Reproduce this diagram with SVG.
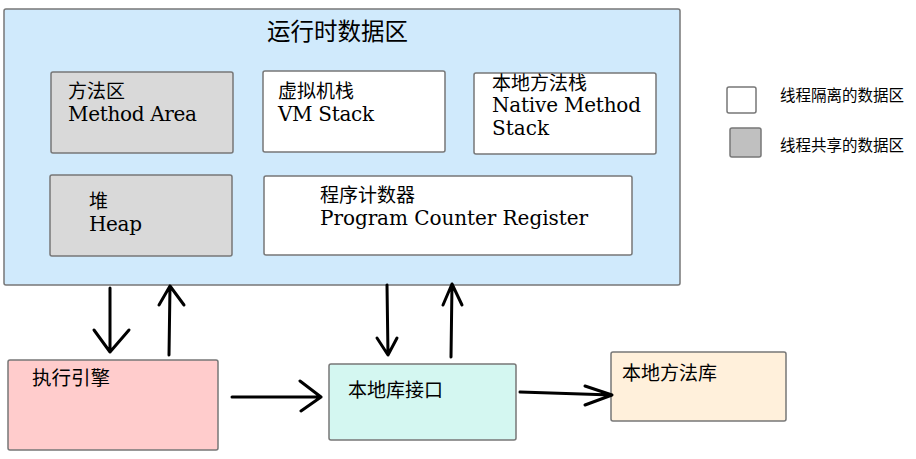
<svg xmlns="http://www.w3.org/2000/svg" width="916" height="459" viewBox="0 0 916 459">
<style>
.box{stroke:#777;stroke-width:1.5}
.lat{font-family:"DejaVu Serif","Liberation Serif",serif;font-size:20px;fill:#000}
.cjk{font-family:"Noto Sans CJK SC","DejaVu Sans",sans-serif;fill:#000}
.zh{font-family:"Noto Sans CJK SC",sans-serif;font-size:19px;fill:#000}
.arr{fill:none;stroke:#000;stroke-width:3;stroke-linecap:round;stroke-linejoin:round}
</style>
<rect width="916" height="459" fill="#fff"/>
<g id="runtime">
<rect class="box" x="4" y="9" width="676" height="276" rx="2" fill="#d0eafc"/>
<text class="cjk" x="267" y="40" font-size="23.5">运行时数据区</text>
</g>
<g id="method-area">
<rect class="box" x="51" y="72" width="182" height="81" rx="2" fill="#d9d9d9"/>
<text class="zh" x="68" y="98">方法区</text>
<text class="lat" x="68" y="121" textLength="129" lengthAdjust="spacing">Method Area</text>
</g>
<g id="vm-stack">
<rect class="box" x="263" y="71" width="182" height="81" rx="2" fill="#fff"/>
<text class="zh" x="278" y="98">虚拟机栈</text>
<text class="lat" x="278" y="121" textLength="96" lengthAdjust="spacing">VM Stack</text>
</g>
<g id="native-stack">
<rect class="box" x="474" y="73" width="182" height="81" rx="2" fill="#fff"/>
<text class="zh" x="492" y="89.5">本地方法栈</text>
<text class="lat" x="492" y="112" font-size="19" textLength="149" lengthAdjust="spacing">Native Method</text>
<text class="lat" x="492" y="135" font-size="19" textLength="57" lengthAdjust="spacing">Stack</text>
</g>
<g id="heap">
<rect class="box" x="50" y="175" width="182" height="81" rx="2" fill="#d9d9d9"/>
<text class="zh" x="89" y="208">堆</text>
<text class="lat" x="89" y="231" textLength="53" lengthAdjust="spacing">Heap</text>
</g>
<g id="pc-register">
<rect class="box" x="264" y="176" width="368" height="79" rx="2" fill="#fff"/>
<text class="zh" x="320" y="202">程序计数器</text>
<text class="lat" x="320" y="225" textLength="268" lengthAdjust="spacing">Program Counter Register</text>
</g>
<g id="legend-isolated">
<rect class="box" x="727" y="87" width="29" height="26" rx="2" fill="#fff"/>
<text class="cjk" x="780" y="101" font-size="15.5">线程隔离的数据区</text>
</g>
<g id="legend-shared">
<rect class="box" x="730" y="128" width="31" height="29" rx="2" fill="#c0c0c0"/>
<text class="cjk" x="780" y="151" font-size="15.5">线程共享的数据区</text>
</g>
<g id="exec-engine">
<rect class="box" x="8" y="360" width="210" height="90" rx="2" fill="#ffcccc"/>
<text class="cjk" x="32" y="385" font-size="19.5">执行引擎</text>
</g>
<g id="native-interface">
<rect class="box" x="329" y="364" width="187" height="76" rx="2" fill="#d4f7f1"/>
<text class="cjk" x="348" y="397" font-size="19">本地库接口</text>
</g>
<g id="native-lib">
<rect class="box" x="611" y="352" width="175" height="69" rx="2" fill="#fff0db"/>
<text class="cjk" x="622" y="380" font-size="19">本地方法库</text>
</g>
<g id="connectors">
<path class="arr" d="M110 288 L110 352 M94 330 L110 352 L129 330"/>
<path class="arr" d="M169 355 L170 286 M159 305 L170 286 L184 305"/>
<path class="arr" d="M387 285 L388 355 M377 338 L388 355 L397 338"/>
<path class="arr" d="M451 357 L452 284 M443 305 L452 284 L462 305"/>
<path class="arr" d="M232 397 L321 397 M300 381 L321 397 L301 411"/>
<path class="arr" d="M520 392 L612 395 M585 386 L612 395 L585 405"/>
</g>
</svg>
